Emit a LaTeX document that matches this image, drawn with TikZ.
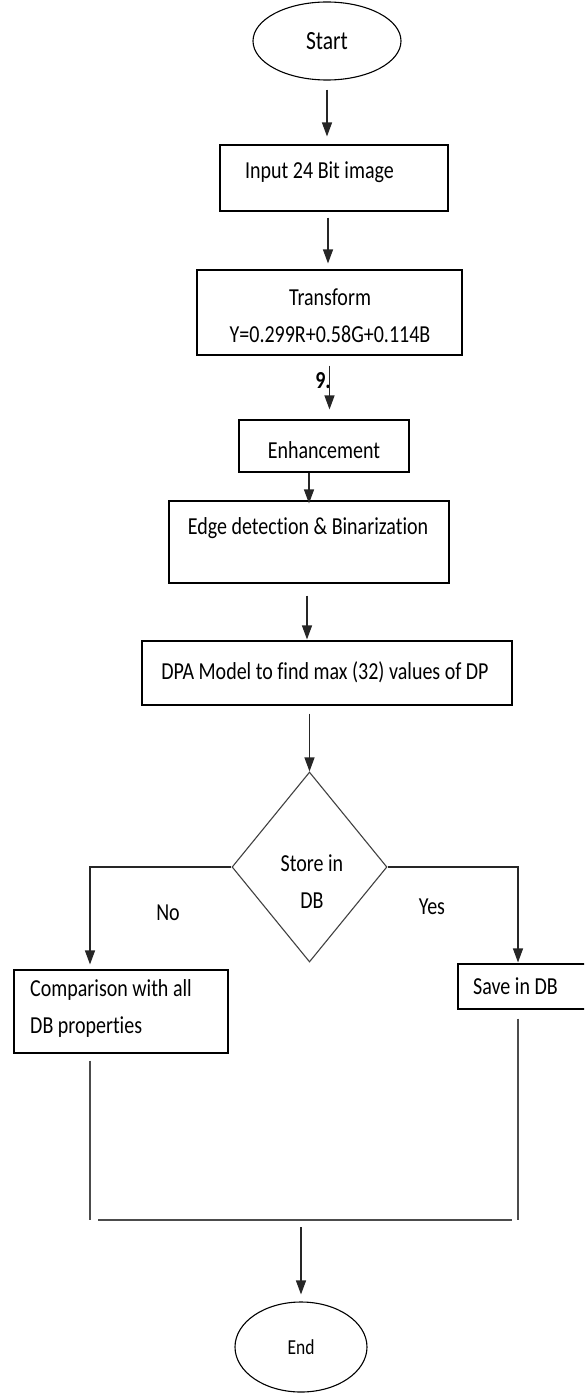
\documentclass[tikz,border=0pt]{standalone}
\usepackage{fontspec}
\setmainfont{Carlito}[Ligatures=NoCommon]
\usetikzlibrary{positioning, arrows.meta, shapes.geometric}

\tikzset{
  box/.style={draw, line width=1.1pt, inner sep=0pt},
  term/.style={draw, ellipse, line width=1.1pt, inner sep=0pt},
  txt/.style={inner sep=0pt, yscale=1.22, font=\fontsize{20}{30.3}\selectfont, align=center},
  flow/.style={line width=1.2pt, black!85, -{Triangle[length=14pt,width=10pt]}},
  link/.style={line width=1.2pt, black!70},
}

\begin{document}
\begin{tikzpicture}[x=1pt, y=-1pt]
\useasboundingbox (0,0) rectangle (584,1394);
\clip (0,0) rectangle (584,1394);
% terminals
\node[term, minimum width=148pt, minimum height=78pt] (start) at (327,41) {};
\node[txt, font=\fontsize{21.5}{26}\selectfont] (starttxt) at (start) {Start};
\node[term, minimum width=132pt, minimum height=90pt] (end) at (301,1347) {};
\node[txt, font=\fontsize{17.5}{21}\selectfont] (endtxt) at (end) {End};
% process boxes
\node[box, minimum width=228pt, minimum height=66pt] (input) at (334,178) {};
\node[txt, anchor=west] (inputtxt) at (245,172) {Input 24 Bit image};
\node[box, minimum width=265pt, minimum height=85pt] (trans) at (329.5,312.5) {};
\node[txt] (transtxt) at (330,316) {Transform\\Y=0.299R+0.58G+0.114B};
\node[txt, font=\bfseries\fontsize{20}{24}\selectfont] (nine) at (323,381) {9.};
\node[box, minimum width=170pt, minimum height=52pt] (enh) at (324,446) {};
\node[txt] (enhtxt) at (324,450) {Enhancement};
\node[box, minimum width=280pt, minimum height=82pt] (edge) at (309,542) {};
\node[txt] (edgetxt) at (308,528) {Edge detection \& Binarization};
\node[box, minimum width=370pt, minimum height=64pt] (dpa) at (327,673) {};
\node[txt] (dpatxt) at (325,672) {DPA Model to find max (32) values of DP};
% decision
\node[box, diamond, black!75, minimum width=155pt, minimum height=190pt] (store) at (309.5,867) {};
\node[txt] (storetxt) at (312,882) {Store in\\DB};
\node[txt] (no) at (168,913) {No};
\node[txt] (yes) at (432,907) {Yes};
% branches
\node[box, minimum width=214pt, minimum height=83pt] (comp) at (121,1011.5) {};
\node[txt, anchor=west, align=left] (comptxt) at (30,1008) {Comparison with all\\DB properties};
\node[box, minimum width=150pt, minimum height=45pt] (save) at (533,986.5) {};
\node[txt, anchor=west] (savetxt) at (473,986) {Save in DB};
\coordinate (joinL) at (90,1220);
\coordinate (joinR) at (518,1220);

% main flow
\draw[flow, shorten <=9pt, shorten >=8pt] (start.south) -- (start.south |- input.north);
\draw[flow, shorten <=6pt, shorten >=6pt] ([xshift=-6pt]input.south) -- ([xshift=-6pt]input.south |- trans.north);
\draw[flow, shorten <=10pt, shorten >=10pt] (trans.south) -- (trans.south |- enh.north);
\draw[flow, shorten >=-3pt] ([xshift=-15pt]enh.south) -- ([xshift=-15pt]enh.south |- edge.north);
\draw[flow, shorten <=12pt, shorten >=1pt] ([xshift=-2pt]edge.south) -- ([xshift=-2pt]edge.south |- dpa.north);
\draw[flow, shorten <=8pt] (store.north |- dpa.south) -- (store.north);
% yes / no
\draw[flow, shorten >=5pt] (store.west) -| ([xshift=-31pt]comp.north);
\draw[flow, shorten >=1pt] (store.east) -| ([xshift=-15pt]save.north);
% merge to end
\draw[link, shorten <=7pt] ([xshift=-31pt]comp.south) -- (joinL);
\draw[link, shorten <=9pt] ([xshift=-15pt]save.south) -- (joinR);
\draw[link, shorten <=8pt, shorten >=6pt] (joinL) -- (joinR);
\draw[flow, shorten <=7pt, shorten >=7pt] (end.north |- joinL) -- (end.north);
\end{tikzpicture}
\end{document}
